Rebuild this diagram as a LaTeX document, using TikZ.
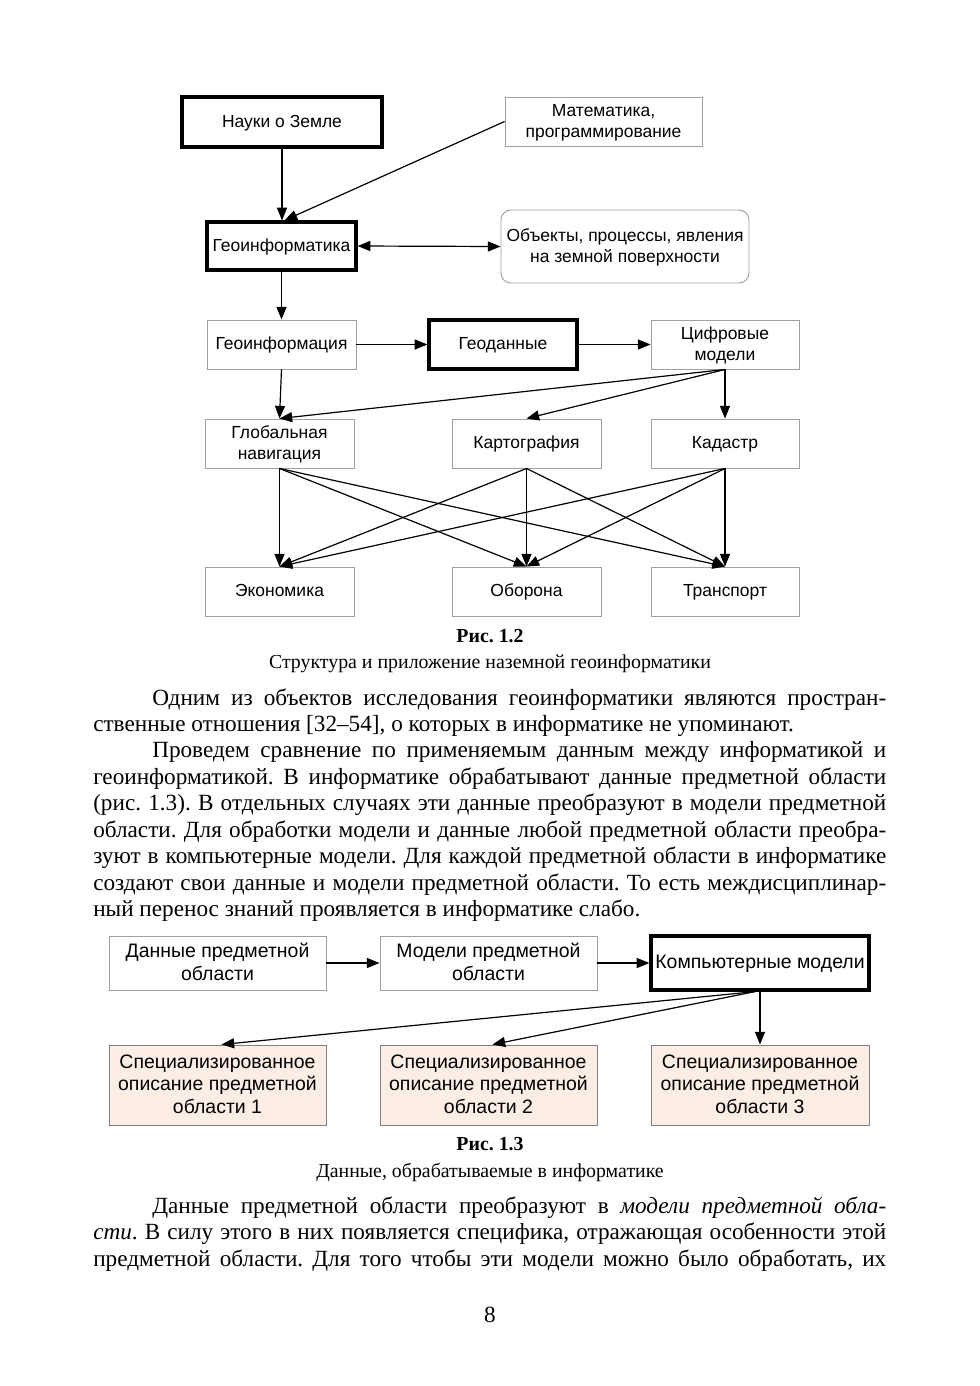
\documentclass[tikz,border=0pt]{standalone}
\usepackage{fontspec}
\setmainfont{Liberation Serif}
\newfontfamily\dsans{Liberation Sans}
\usetikzlibrary{arrows.meta,calc}
\definecolor{peach}{HTML}{FCEEE4}
\definecolor{bordergray}{HTML}{A0A0A0}
\frenchspacing
\newcommand\dfa{\dsans\fontsize{13.1pt}{15.75pt}\selectfont}
\newcommand\dfb{\dsans\fontsize{14.6pt}{16.9pt}\selectfont}
\newcommand\bodyf{\fontsize{17.4pt}{19.9pt}\selectfont}
\newcommand\capf{\fontsize{14.9pt}{17pt}\selectfont}
\newcommand\ms{\vrule width0pt height0.76\baselineskip depth0.24\baselineskip}
\newcommand\bx[7]{\node[#6, minimum width={(#4-#2)*0.75pt}, minimum height={(#5-#3)*0.75pt}] (#1) at ({(#2+#4)/2},{(#3+#5)/2}) {#7};}
\newcommand\jl[4]{\node[txt] (#1) at (#2) {\makebox[#3][s]{\bodyf #4}};}
\begin{document}
\begin{tikzpicture}[x=0.75pt,y=-0.75pt,
  thinbox/.style={draw=bordergray, line width=0.7pt, inner sep=0pt, align=center},
  thickbox/.style={draw=black, line width=2.4pt, inner sep=0pt, align=center},
  roundbox/.style={thinbox, rounded corners=7.5pt},
  fillbox/.style={thinbox, draw=gray, fill=peach},
  d1/.style={font=\dfa},
  d2/.style={font=\dfb},
  arr/.style={line width=0.9pt, -{Triangle[length=9.5pt,width=7.5pt]}},
  arrb/.style={line width=0.9pt, {Triangle[length=9.5pt,width=7.5pt]}-{Triangle[length=9.5pt,width=7.5pt]}},
  txt/.style={anchor=base west, inner sep=0pt},
  ctxt/.style={anchor=base, inner sep=0pt, font=\capf}]
\fill[white] (0,0) rectangle (980,1386);
\useasboundingbox (0,0) rectangle (980,1386);

% ---------- Figure 1.2 ----------
\bx{nauki}{182}{97}{382}{147}{thickbox,d1}{\ms Науки о Земле}
\bx{mat}{505}{97}{702}{146}{thinbox,d1}{\ms Математика,\\\ms программирование}
\bx{geo}{207}{222}{356}{270}{thickbox,d1}{\ms Геоинформатика}
\bx{obj}{501}{210}{749}{283}{roundbox,d1}{\ms Объекты, процессы, явления\\\ms на земной поверхности}
\bx{ginf}{207}{320}{356}{369}{thinbox,d1}{\ms Геоинформация}
\bx{gdat}{429}{320}{577}{369}{thickbox,d1}{\ms Геоданные}
\bx{cifr}{651}{320}{799}{369}{thinbox,d1}{\ms Цифровые\\\ms модели}
\bx{glob}{205}{419}{354}{468}{thinbox,d1}{\ms Глобальная\\\ms навигация}
\bx{kart}{452}{419}{601}{468}{thinbox,d1}{\ms Картография}
\bx{kad}{651}{419}{799}{468}{thinbox,d1}{\ms Кадастр}
\bx{econ}{205}{567}{354}{616}{thinbox,d1}{\ms Экономика}
\bx{obor}{452}{567}{601}{616}{thinbox,d1}{\ms Оборона}
\bx{trans}{651}{567}{799}{616}{thinbox,d1}{\ms Транспорт}

\draw[arr] (nauki.south) -- (nauki.south |- geo.north);
\draw[arr] (mat.west) -- ($(geo.north)+(3,0)$);
\draw[arrb] (geo.east) -- (obj.west);
\draw[arr] (geo.south) -- (ginf.north);
\draw[arr] (ginf.east) -- (gdat.west);
\draw[arr] (gdat.east) -- (cifr.west);
\draw[arr] (ginf.south) -- (glob.north);
\draw[arr] (cifr.south) -- (glob.north);
\draw[arr] (cifr.south) -- (kart.north);
\draw[arr] (cifr.south) -- (kad.north);
\foreach \s in {glob,kart,kad}
  \foreach \t in {econ,obor,trans}
    \draw[arr] (\s.south) -- (\t.north);

\node[ctxt, font=\capf\bfseries] (cap1) at (490,642) {Рис. 1.2};
\node[ctxt] (cap1b) at (490,668) {Структура и приложение наземной геоинформатики};

% ---------- Body text ----------
\jl{p1a}{152,705}{550.5pt}{Одним из объектов исследования геоинформатики являются простран-}
\node[txt] (p1b) at (93,731) {\bodyf ственные отношения [32–54], о которых в информатике не упоминают.};
\jl{p2a}{152,757}{550.5pt}{Проведем сравнение по применяемым данным между информатикой и}
\jl{p2b}{93,784}{594.75pt}{геоинформатикой. В информатике обрабатывают данные предметной области}
\jl{p2c}{93,810}{594.75pt}{(рис. 1.3). В отдельных случаях эти данные преобразуют в модели предметной}
\jl{p2d}{93,837}{594.75pt}{области. Для обработки модели и данные любой предметной области преобра-}
\jl{p2e}{93,863}{594.75pt}{зуют в компьютерные модели. Для каждой предметной области в информатике}
\jl{p2f}{93,890}{594.75pt}{создают свои данные и модели предметной области. То есть междисциплинар-}
\node[txt] (p2g) at (93,916) {\bodyf ный перенос знаний проявляется в информатике слабо.};

% ---------- Figure 1.3 ----------
\bx{dan}{109}{936}{326}{990}{thinbox,d2}{\ms Данные предметной\\\ms области}
\bx{mod}{380}{936}{597}{990}{thinbox,d2}{\ms Модели предметной\\\ms области}
\bx{komp}{651}{936}{869}{990}{thickbox,d2}{\ms Компьютерные модели}
\bx{sp1}{109}{1045}{326}{1125}{fillbox,d2}{\ms Специализированное\\\ms описание предметной\\\ms области 1}
\bx{sp2}{380}{1045}{597}{1125}{fillbox,d2}{\ms Специализированное\\\ms описание предметной\\\ms области 2}
\bx{sp3}{651}{1045}{869}{1125}{fillbox,d2}{\ms Специализированное\\\ms описание предметной\\\ms области 3}

\draw[arr] (dan.east) -- (mod.west);
\draw[arr] (mod.east) -- (komp.west);
\draw[arr] ($(komp.south)+(-5,0)$) -- ($(sp1.north)+(4,0)$);
\draw[arr] ($(komp.south)+(-5,0)$) -- ($(sp2.north)+(4,0)$);
\draw[arr] (komp.south) -- (sp3.north);

\node[ctxt, font=\capf\bfseries] (cap2) at (490,1150) {Рис. 1.3};
\node[ctxt] (cap2b) at (490,1177) {Данные, обрабатываемые в информатике};

% ---------- Body text 2 ----------
\jl{p3a}{152,1213}{550.5pt}{Данные предметной области преобразуют в \textit{модели предметной обла-}}
\jl{p3b}{93,1239}{594.75pt}{\textit{сти}. В силу этого в них появляется специфика, отражающая особенности этой}
\jl{p3c}{93,1266}{594.75pt}{предметной области. Для того чтобы эти модели можно было обработать, их}

\node[ctxt, font=\fontsize{17.4pt}{20pt}\selectfont] (page) at (490,1322) {8};
\end{tikzpicture}
\end{document}
